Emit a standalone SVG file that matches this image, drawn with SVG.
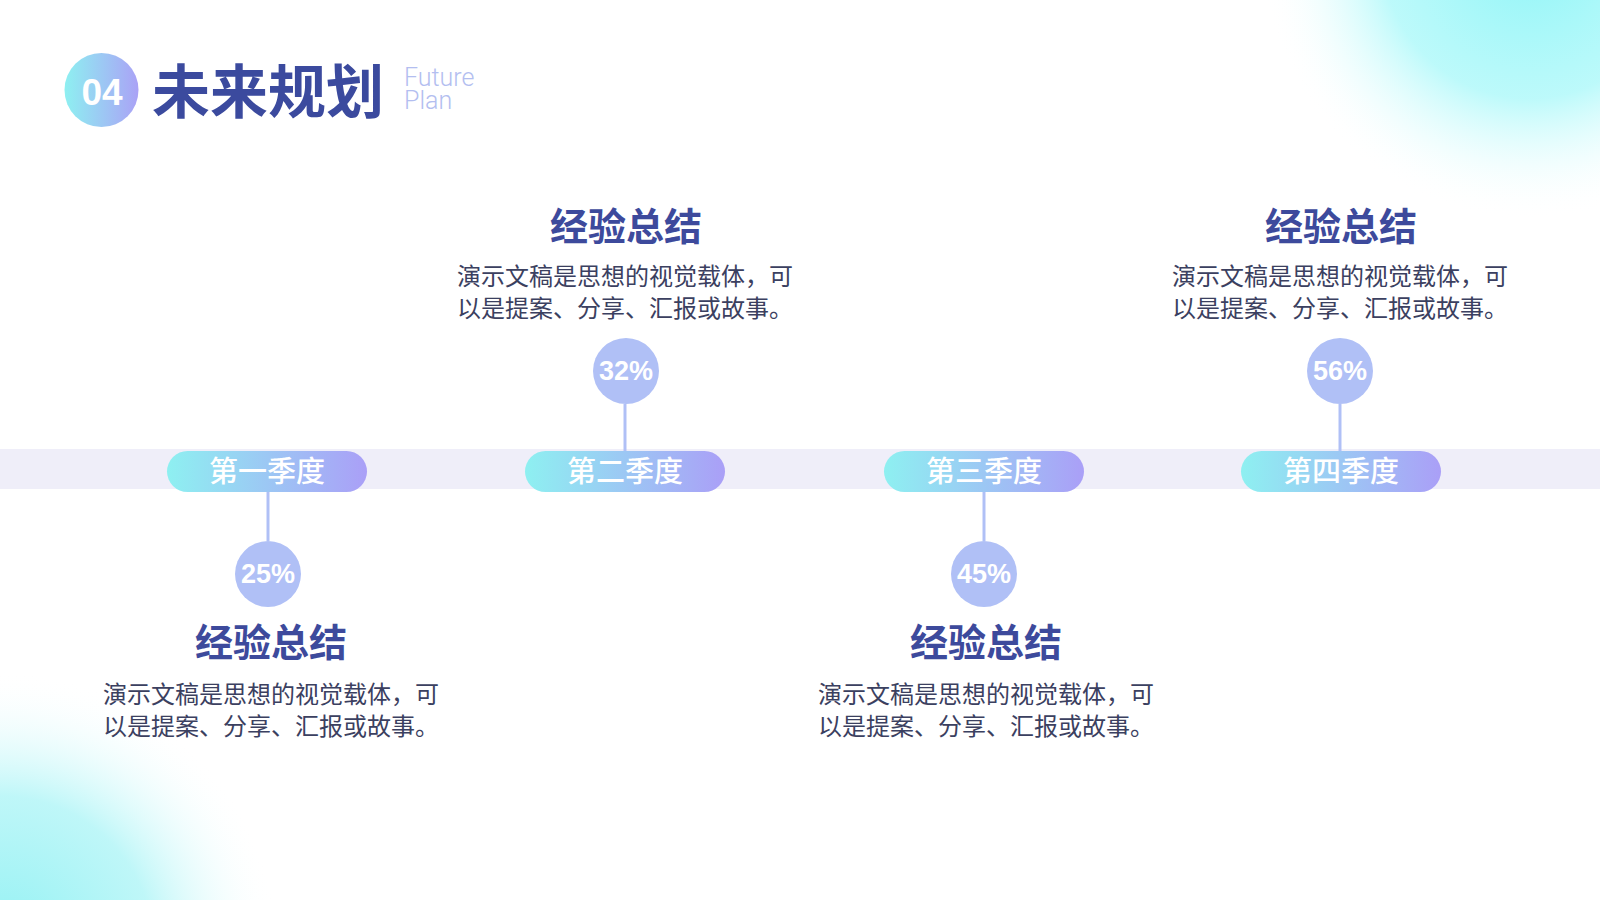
<svg xmlns="http://www.w3.org/2000/svg" width="1600" height="900" viewBox="0 0 1600 900">
<defs>
<radialGradient id="blobTR" cx="1530" cy="-50" r="270" gradientUnits="userSpaceOnUse">
<stop offset="0" stop-color="#8ff5f7" stop-opacity="1"/>
<stop offset="0.55" stop-color="#a6f8f9" stop-opacity="0.75"/>
<stop offset="1" stop-color="#ffffff" stop-opacity="0"/>
</radialGradient>
<radialGradient id="blobBL" cx="0" cy="950" r="280" gradientUnits="userSpaceOnUse">
<stop offset="0" stop-color="#8ff1f3" stop-opacity="1"/>
<stop offset="0.55" stop-color="#a9f4f6" stop-opacity="0.75"/>
<stop offset="1" stop-color="#ffffff" stop-opacity="0"/>
</radialGradient>
<linearGradient id="pillGrad" x1="0" y1="0" x2="1" y2="0">
<stop offset="0" stop-color="#8ef0f1"/>
<stop offset="1" stop-color="#aa9ff7"/>
</linearGradient>
<linearGradient id="badgeGrad" x1="0" y1="0" x2="1" y2="0">
<stop offset="0" stop-color="#8ef0f1"/>
<stop offset="1" stop-color="#aaa2f6"/>
</linearGradient>
<style>
.cn{font-family:"Noto Sans CJK SC","Noto Sans",sans-serif;}
.head{font-size:38px;font-weight:700;fill:#3d4a9c;text-anchor:middle;}
.body{font-size:24px;fill:#3b4060;text-anchor:middle;}
.pill{fill:url(#pillGrad);}
.pilltxt{font-size:29px;font-weight:500;fill:#ffffff;text-anchor:middle;}
.pct{fill:#b0c0f6;}
.pcttxt{font-family:"Liberation Sans",Arial,sans-serif;font-size:27px;font-weight:700;fill:#ffffff;text-anchor:middle;}
.conn{stroke:#b0c0f6;stroke-width:3;fill:none;}
</style>
</defs>
<rect width="1600" height="900" fill="#ffffff"/>
<circle cx="1530" cy="-50" r="270" fill="url(#blobTR)"/>
<circle cx="0" cy="950" r="280" fill="url(#blobBL)"/>

<g id="title">
<circle cx="101.5" cy="90" r="37" fill="url(#badgeGrad)"/>
<text x="102" y="105" font-family="Liberation Sans,Arial,sans-serif" font-size="37" font-weight="700" fill="#ffffff" text-anchor="middle">04</text>
<text x="152" y="113" class="cn" font-size="58" font-weight="700" fill="#3b4a9e">未来规划</text>
<text font-family="Roboto,sans-serif" font-weight="300" font-size="25" fill="#b3bef0"><tspan x="404" y="86">Future</tspan><tspan x="404" y="109">Plan</tspan></text>
</g>

<rect id="band" x="0" y="449" width="1600" height="40" fill="#efeef9"/>

<g id="connectors">
<line class="conn" x1="268" y1="492" x2="268" y2="541"/>
<line class="conn" x1="625" y1="404" x2="625" y2="451"/>
<line class="conn" x1="984" y1="492" x2="984" y2="541"/>
<line class="conn" x1="1340" y1="404" x2="1340" y2="451"/>
</g>

<g id="q1">
<rect class="pill" x="167" y="451" width="200" height="41" rx="20.5"/>
<text class="cn pilltxt" x="267" y="482">第一季度</text>
<circle class="pct" cx="268" cy="574" r="33"/>
<text class="pcttxt" x="268" y="583">25%</text>
<text class="cn head" x="271" y="656">经验总结</text>
<text class="cn body" x="271" y="703">演示文稿是思想的视觉载体，可</text>
<text class="cn body" x="271" y="735">以是提案、分享、汇报或故事。</text>
</g>

<g id="q2">
<rect class="pill" x="525" y="451" width="200" height="41" rx="20.5"/>
<text class="cn pilltxt" x="625" y="482">第二季度</text>
<circle class="pct" cx="626" cy="371" r="33"/>
<text class="pcttxt" x="626" y="380">32%</text>
<text class="cn head" x="626" y="240">经验总结</text>
<text class="cn body" x="625" y="285">演示文稿是思想的视觉载体，可</text>
<text class="cn body" x="625" y="317">以是提案、分享、汇报或故事。</text>
</g>

<g id="q3">
<rect class="pill" x="884" y="451" width="200" height="41" rx="20.5"/>
<text class="cn pilltxt" x="984" y="482">第三季度</text>
<circle class="pct" cx="984" cy="574" r="33"/>
<text class="pcttxt" x="984" y="583">45%</text>
<text class="cn head" x="986" y="656">经验总结</text>
<text class="cn body" x="986" y="703">演示文稿是思想的视觉载体，可</text>
<text class="cn body" x="986" y="735">以是提案、分享、汇报或故事。</text>
</g>

<g id="q4">
<rect class="pill" x="1241" y="451" width="200" height="41" rx="20.5"/>
<text class="cn pilltxt" x="1341" y="482">第四季度</text>
<circle class="pct" cx="1340" cy="371" r="33"/>
<text class="pcttxt" x="1340" y="380">56%</text>
<text class="cn head" x="1341" y="240">经验总结</text>
<text class="cn body" x="1340" y="285">演示文稿是思想的视觉载体，可</text>
<text class="cn body" x="1340" y="317">以是提案、分享、汇报或故事。</text>
</g>
</svg>
